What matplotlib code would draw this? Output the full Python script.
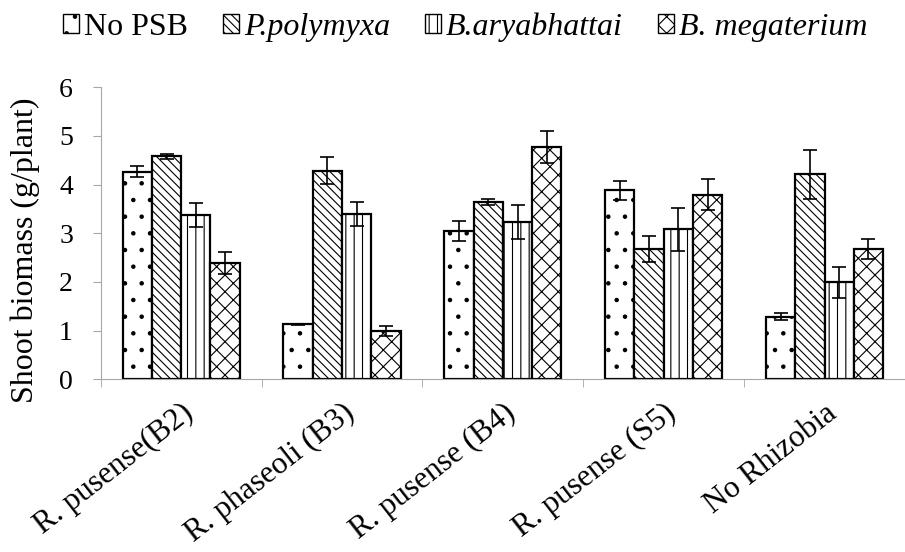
import numpy as np
import matplotlib
matplotlib.use('Agg')
import matplotlib.pyplot as plt

plt.rcParams['font.family'] = ['Liberation Serif', 'DejaVu Serif']
plt.rcParams['hatch.linewidth'] = 0.8

categories = ['R. pusense(B2)', 'R. phaseoli (B3)', 'R. pusense (B4)',
              'R. pusense (S5)', 'No Rhizobia']
series_names = ['No PSB', 'P.polymyxa', 'B.aryabhattai', 'B. megaterium']

no_psb = [4.27, 1.13, 3.05, 3.88, 1.29]
no_psb_err = [0.12, 0.01, 0.20, 0.19, 0.07]
polymyxa = [4.58, 4.29, 3.65, 2.68, 4.21]
polymyxa_err = [0.05, 0.27, 0.06, 0.27, 0.50]
aryabhattai = [3.38, 3.39, 3.24, 3.08, 1.99]
aryabhattai_err = [0.25, 0.25, 0.35, 0.44, 0.32]
megaterium = [2.39, 0.99, 4.78, 3.79, 2.68]
megaterium_err = [0.23, 0.10, 0.33, 0.32, 0.20]

values = [no_psb, polymyxa, aryabhattai, megaterium]
errors = [no_psb_err, polymyxa_err, aryabhattai_err, megaterium_err]
hatches = ['.', '\\\\\\\\', '||', 'xx']

fig = plt.figure(figsize=(9.05, 5.52), dpi=100)
ax = fig.add_axes([0.1113, 0.3129, 1 - 0.1113, 0.8418 - 0.3129])

x = np.arange(len(categories))
width = 0.182
handles = []
for i in range(4):
    pos = x + (i - 1.5) * width
    b = ax.bar(pos, values[i], width, color='white', edgecolor='black',
               linewidth=1.6, hatch=hatches[i], label=series_names[i], zorder=2)
    ax.errorbar(pos, values[i], yerr=errors[i], fmt='none', ecolor='black',
                elinewidth=1.2, capsize=5, capthick=1.2, zorder=3)
    handles.append(b)

ax.set_xlim(-0.5, -0.5 + 804.3 / 162.6)
ax.set_ylim(0, 6)
ax.set_yticks(range(7))
ax.tick_params(axis='y', labelsize=20, length=6, color='#a6a6a6', pad=14)

ax.set_xticks(x)
ax.set_xticklabels(categories, rotation=38, ha='right', rotation_mode='anchor',
                   fontsize=22.5)
ax.tick_params(axis='x', which='major', length=0, pad=14)
ax.set_xticks(np.arange(-0.5, 4.6, 1), minor=True)
ax.tick_params(axis='x', which='minor', length=6, color='#a6a6a6')

for s in ['top', 'right']:
    ax.spines[s].set_visible(False)
ax.spines['left'].set_color('#a6a6a6')
ax.spines['bottom'].set_color('#a6a6a6')

fig.text(25 / 905, 1 - 250 / 552, 'Shoot biomass (g/plant)', rotation=90,
         ha='center', va='center', fontsize=23)

leg = fig.legend(handles=handles, loc='center', bbox_to_anchor=(0.514, 0.951),
                 ncol=4, frameon=False, fontsize=23, handlelength=0.5,
                 handleheight=0.5, handletextpad=0.15, columnspacing=1.1)
for t in leg.get_texts()[1:]:
    t.set_fontstyle('italic')
for p in leg.get_patches():
    p.set_linewidth(1.0)

fig.savefig('out.png', dpi=100)
